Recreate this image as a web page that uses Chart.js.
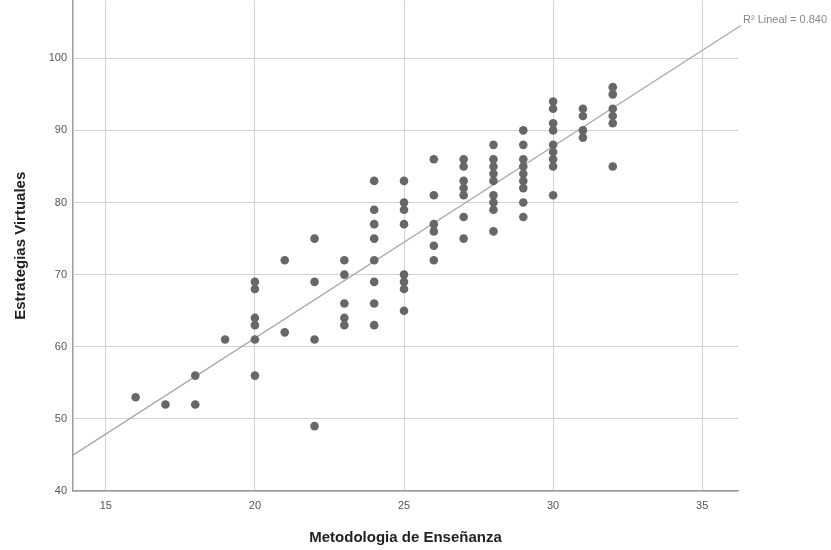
<!DOCTYPE html>
<html>
<head>
<meta charset="utf-8">
<script src="https://cdn.jsdelivr.net/npm/chart.js@4/dist/chart.umd.min.js"></script>
<style>
  html, body { margin: 0; padding: 0; background: #fff; overflow: hidden; }
  #wrap { width: 831px; height: 550px; position: relative; overflow: hidden; }
  #c { position: absolute; left: 0; top: -12px; }
</style>
</head>
<body>
<div id="wrap"><canvas id="c" width="831" height="562"></canvas></div>
<script>
// Metodologia de Enseñanza (x) and Estrategias Virtuales (y)
const metodologia = [
  16, 17, 18, 18, 19,
  20, 20, 20, 20, 20, 20,
  21, 21,
  22, 22, 22, 22,
  23, 23, 23, 23, 23,
  24, 24, 24, 24, 24, 24, 24, 24,
  25, 25, 25, 25, 25, 25, 25, 25,
  26, 26, 26, 26, 26, 26,
  27, 27, 27, 27, 27, 27, 27,
  28, 28, 28, 28, 28, 28, 28, 28, 28,
  29, 29, 29, 29, 29, 29, 29, 29, 29,
  30, 30, 30, 30, 30, 30, 30, 30, 30,
  31, 31, 31, 31,
  32, 32, 32, 32, 32, 32
];
const estrategias = [
  53, 52, 56, 52, 61,
  69, 68, 64, 63, 61, 56,
  72, 62,
  75, 69, 61, 49,
  72, 70, 66, 64, 63,
  83, 79, 77, 75, 72, 69, 66, 63,
  83, 80, 79, 77, 70, 69, 68, 65,
  86, 81, 77, 76, 74, 72,
  86, 85, 83, 82, 81, 78, 75,
  88, 86, 85, 84, 83, 81, 80, 79, 76,
  90, 88, 86, 85, 84, 83, 82, 80, 78,
  94, 93, 91, 90, 88, 87, 86, 85, 81,
  93, 92, 90, 89,
  96, 95, 93, 92, 91, 85
];
const xTicks = [15, 20, 25, 30, 35];
const yTicks = [40, 50, 60, 70, 80, 90, 100];
const xRange = [13.9, 36.2];
const yRange = [40, 108];
// Linear fit
const fitSlope = 2.66;
const fitIntercept = 8.0;
const fitLabel = 'R\u00B2 Lineal = 0.840';
const xTitle = 'Metodologia de Enseñanza';
const yTitle = 'Estrategias Virtuales';

const points = metodologia.map((x, i) => ({ x: x, y: estrategias[i] }));
const fitEnds = [xRange[0], xRange[1] + 0.1];
const fitPoints = fitEnds.map(x => ({ x: x, y: fitIntercept + fitSlope * x }));

const fitLabelPlugin = {
  id: 'fitLabel',
  afterDatasetsDraw(chart) {
    const meta = chart.getDatasetMeta(0);
    const last = meta.data[meta.data.length - 1];
    const ctx = chart.ctx;
    ctx.save();
    ctx.font = '11px "Liberation Sans", Arial, sans-serif';
    ctx.fillStyle = '#888888';
    ctx.textAlign = 'left';
    ctx.textBaseline = 'middle';
    ctx.fillText(fitLabel, last.x + 2, last.y - 5);
    ctx.restore();
  }
};

new Chart(document.getElementById('c'), {
  type: 'scatter',
  data: {
    datasets: [
      {
        type: 'line',
        data: fitPoints,
        borderColor: '#a9a9a9',
        borderWidth: 1.3,
        pointRadius: 0,
        fill: false,
        clip: false,
        order: 2
      },
      {
        type: 'scatter',
        data: points,
        backgroundColor: '#676767',
        borderColor: '#676767',
        borderWidth: 0,
        pointRadius: 4.3,
        order: 1
      }
    ]
  },
  options: {
    responsive: false,
    animation: false,
    devicePixelRatio: 1,
    layout: { padding: { top: 0, right: 93, bottom: 0, left: 0 } },
    plugins: { legend: { display: false }, tooltip: { enabled: false } },
    scales: {
      x: {
        type: 'linear',
        min: xRange[0],
        max: xRange[1],
        afterBuildTicks: s => { s.ticks = xTicks.map(v => ({ value: v })); },
        afterFit: s => { s.height = 59; },
        grid: { color: '#d2d2d2', lineWidth: 1, drawTicks: false },
        border: { color: '#9c9c9c', width: 1.5 },
        ticks: {
          color: '#555',
          font: { family: '"Liberation Sans", Arial, sans-serif', size: 11 },
          padding: 8,
          maxRotation: 0
        },
        title: {
          display: true,
          text: xTitle,
          color: '#222',
          font: { family: '"Liberation Sans", Arial, sans-serif', size: 15, weight: 'bold' },
          padding: { top: 3, bottom: 3 }
        }
      },
      y: {
        type: 'linear',
        min: yRange[0],
        max: yRange[1],
        afterBuildTicks: s => { s.ticks = yTicks.map(v => ({ value: v })); },
        afterFit: s => { s.width = 73; },
        grid: { color: '#d2d2d2', lineWidth: 1, drawTicks: false },
        border: { color: '#9c9c9c', width: 1.5 },
        ticks: {
          color: '#555',
          font: { family: '"Liberation Sans", Arial, sans-serif', size: 11 },
          padding: 6
        },
        title: {
          display: true,
          text: yTitle,
          color: '#222',
          font: { family: '"Liberation Sans", Arial, sans-serif', size: 15, weight: 'bold' },
          padding: { top: 12, bottom: 12 }
        }
      }
    }
  },
  plugins: [fitLabelPlugin]
});
</script>
</body>
</html>
